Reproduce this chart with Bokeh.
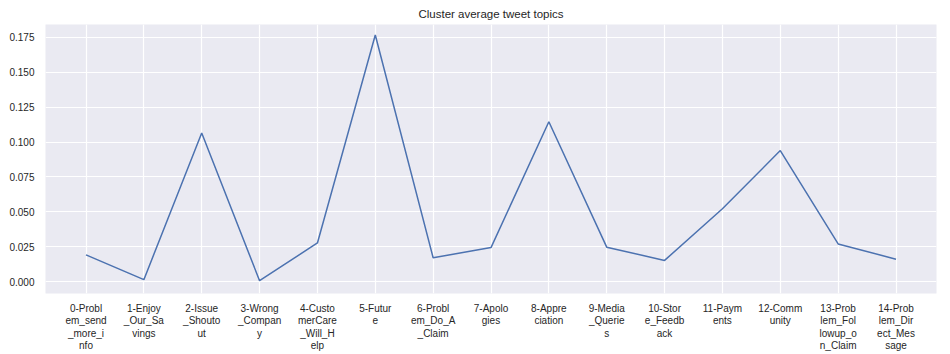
from bokeh.plotting import figure
from bokeh.models import Range1d, FixedTicker, NumeralTickFormatter
from bokeh.embed import file_html
from bokeh.resources import INLINE

topics = ["0-Probl\nem_send\n_more_i\nnfo", "1-Enjoy\n_Our_Sa\nvings", "2-Issue\n_Shouto\nut",
          "3-Wrong\n_Compan\ny", "4-Custo\nmerCare\n_Will_H\nelp", "5-Futur\ne",
          "6-Probl\nem_Do_A\n_Claim", "7-Apolo\ngies", "8-Appre\nciation", "9-Media\n_Querie\ns",
          "10-Stor\ne_Feedb\nack", "11-Paym\nents", "12-Comm\nunity", "13-Prob\nlem_Fol\nlowup_o\nn_Claim",
          "14-Prob\nlem_Dir\nect_Mes\nsage"]
values = [0.0192, 0.0014, 0.1065, 0.0007, 0.0277, 0.1767, 0.0171, 0.0244, 0.1145, 0.0247,
          0.0152, 0.0522, 0.0939, 0.0270, 0.0161]
y_ticks = [0.0, 0.025, 0.05, 0.075, 0.1, 0.125, 0.15, 0.175]

xs = list(range(len(topics)))

p = figure(width=950, height=354, output_backend="svg", toolbar_location=None,
           x_range=Range1d(-0.7, 14.7), y_range=Range1d(-0.0085, 0.1842),
           title="Cluster average tweet topics",
           min_border_left=45, min_border_right=14, min_border_top=22, min_border_bottom=61)
p.background_fill_color = "#EAEAF2"
p.border_fill_color = "white"
p.outline_line_color = None

p.title.align = "center"
p.title.text_font = "Liberation Sans"
p.title.text_font_style = "normal"
p.title.text_font_size = "11.5px"
p.title.text_color = "#262626"

p.line(xs, values, line_color="#4C72B0", line_width=1.5)

p.xaxis.ticker = FixedTicker(ticks=xs)
p.xaxis.major_label_overrides = {i: t for i, t in enumerate(topics)}
p.yaxis.ticker = FixedTicker(ticks=y_ticks)
p.yaxis.formatter = NumeralTickFormatter(format="0.000")

for ax in (p.xaxis, p.yaxis):
    ax.axis_line_color = None
    ax.major_tick_line_color = None
    ax.minor_tick_line_color = None
    ax.major_tick_out = 0
    ax.major_tick_in = 0
    ax.major_label_text_font = "Liberation Sans"
    ax.major_label_text_font_size = "10px"
    ax.major_label_text_color = "#262626"
p.xaxis.major_label_standoff = 9
p.xaxis.major_label_text_line_height = 1.15
p.yaxis.major_label_standoff = 11

p.xgrid.ticker = FixedTicker(ticks=xs)
p.ygrid.ticker = FixedTicker(ticks=y_ticks)
for g in (p.xgrid, p.ygrid):
    g.grid_line_color = "white"
    g.grid_line_width = 1.2

open("out.html", "w").write(file_html(p, INLINE))
